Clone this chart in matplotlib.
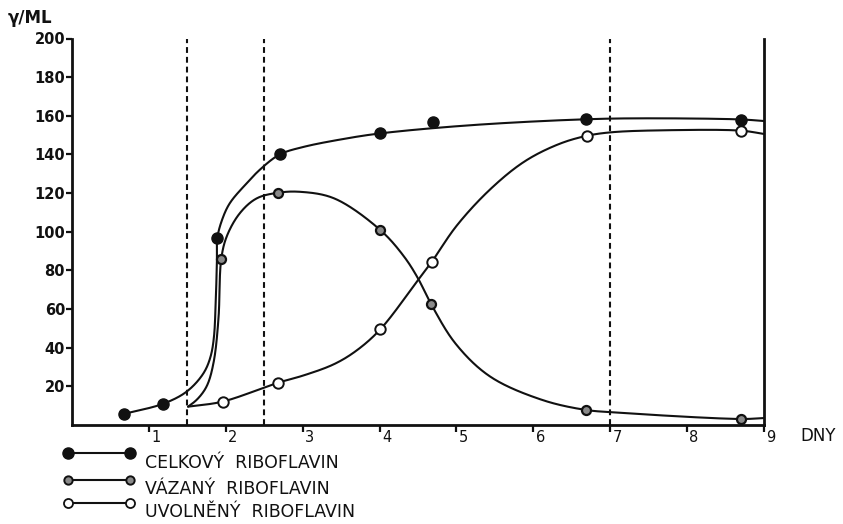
import numpy as np
import matplotlib
matplotlib.use("Agg")
import matplotlib.pyplot as plt
from matplotlib.lines import Line2D
from matplotlib.transforms import ScaledTranslation

# ---------------- data ----------------
# measured points
celk_x = [0.67, 1.18, 1.89, 2.70, 4.01, 4.69, 6.68, 8.70]
celk_y = [5.7, 10.9, 96.9, 140.0, 150.9, 157.0, 158.3, 157.8]
vaz_x = [1.94, 2.68, 4.01, 4.67, 6.68, 8.70]
vaz_y = [85.7, 120.2, 100.9, 62.6, 7.8, 3.0]
uvo_x = [1.96, 2.68, 4.01, 4.68, 6.70, 8.70]
uvo_y = [12.1, 21.9, 49.5, 84.5, 149.7, 152.2]

# hand-drawn curves
celk_curve_x = [0.67, 1.18, 1.49, 1.71, 1.80, 1.845, 1.87, 1.885, 1.89, 1.95, 2.05, 2.27, 2.44, 2.70, 3.0, 3.5, 4.01, 5.21, 6.68, 7.46, 8.71, 9.0]
celk_curve_y = [5.7, 10.9, 17.2, 26.7, 35.0, 45.0, 65.0, 85.0, 96.9, 106.0, 114.7, 125.0, 132.0, 140.0, 143.8, 147.8, 150.9, 155.2, 158.2, 158.7, 158.1, 157.3]
vaz_curve_x = [1.51, 1.62, 1.75, 1.84, 1.905, 1.94, 2.01, 2.18, 2.40, 2.68, 2.96, 3.41, 4.01, 4.32, 4.50, 4.67, 4.99, 5.44, 6.12, 6.68, 7.02, 8.71, 9.0]
vaz_curve_y = [9.5, 12.9, 19.8, 32.0, 55.0, 85.7, 97.4, 109.5, 117.3, 120.2, 120.7, 117.3, 100.9, 87.1, 75.9, 62.6, 42.0, 25.0, 12.9, 7.8, 6.6, 3.1, 3.6]
uvo_curve_x = [1.51, 1.96, 2.68, 3.0, 3.41, 3.7, 4.01, 4.50, 4.68, 5.0, 5.44, 5.89, 6.34, 6.70, 7.02, 7.69, 8.71, 9.0]
uvo_curve_y = [9.5, 12.1, 21.9, 25.5, 31.5, 38.5, 49.5, 75.0, 84.5, 103.0, 122.0, 136.5, 145.5, 149.7, 151.5, 152.5, 152.3, 150.6]

phase_x = [1.5, 2.5, 7.0]
x_ticks = [1, 2, 3, 4, 5, 6, 7, 8, 9]
y_ticks = [20, 40, 60, 80, 100, 120, 140, 160, 180, 200]
legend_labels = ["CELKOVÝ  RIBOFLAVIN", "VÁZANÝ  RIBOFLAVIN", "UVOLNĚNÝ  RIBOFLAVIN"]

SX, SY = 76.9, 1.93  # approx. pixels per data unit, used only for smooth rendering


def smooth(xs, ys, n=30, sigma=3.0):
    """Centripetal Catmull-Rom through traced points, lightly smoothed along arc length."""
    P = np.column_stack([np.asarray(xs) * SX, np.asarray(ys) * SY])
    P = np.vstack([2 * P[0] - P[1], P, 2 * P[-1] - P[-2]])
    out = []
    for i in range(1, len(P) - 2):
        p0, p1, p2, p3 = P[i - 1], P[i], P[i + 1], P[i + 2]
        t0 = 0.0
        t1 = t0 + max(np.linalg.norm(p1 - p0), 1e-6) ** 0.5
        t2 = t1 + max(np.linalg.norm(p2 - p1), 1e-6) ** 0.5
        t3 = t2 + max(np.linalg.norm(p3 - p2), 1e-6) ** 0.5
        t = np.linspace(t1, t2, n)[:, None]
        a1 = (t1 - t) / (t1 - t0) * p0 + (t - t0) / (t1 - t0) * p1
        a2 = (t2 - t) / (t2 - t1) * p1 + (t - t1) / (t2 - t1) * p2
        a3 = (t3 - t) / (t3 - t2) * p2 + (t - t2) / (t3 - t2) * p3
        b1 = (t2 - t) / (t2 - t0) * a1 + (t - t0) / (t2 - t0) * a2
        b2 = (t3 - t) / (t3 - t1) * a2 + (t - t1) / (t3 - t1) * a3
        c = (t2 - t) / (t2 - t1) * b1 + (t - t1) / (t2 - t1) * b2
        out.append(c if i == 1 else c[1:])
    C = np.vstack(out)
    # resample uniformly by arc length (0.5 px)
    d = np.r_[0, np.cumsum(np.hypot(*np.diff(C, axis=0).T))]
    s = np.arange(0, d[-1], 0.5)
    s = np.r_[s, d[-1]]
    R = np.column_stack([np.interp(s, d, C[:, 0]), np.interp(s, d, C[:, 1])])
    # gaussian smoothing with point-reflection padding (keeps end points)
    k = int(4 * sigma / 0.5)
    g = np.exp(-0.5 * (np.arange(-k, k + 1) * 0.5 / sigma) ** 2)
    g /= g.sum()
    head = 2 * R[0] - R[1:k + 1][::-1]
    tail = 2 * R[-1] - R[-k - 1:-1][::-1]
    Rp = np.vstack([head, R, tail])
    S = np.column_stack([np.convolve(Rp[:, 0], g, mode="valid"), np.convolve(Rp[:, 1], g, mode="valid")])
    return S[:, 0] / SX, S[:, 1] / SY


W, H = 843, 524
fig = plt.figure(figsize=(W / 100, H / 100), dpi=100)
fig.patch.set_facecolor("white")
ax = fig.add_axes([72 / W, 99 / H, (764 - 72) / W, (425 - 38.5) / H])
ax.set_xlim(0, 9)
ax.set_ylim(0, 200)

ink = "#111111"
lw_curve = 1.5

for x in phase_x:
    ax.plot([x, x], [0, 200], color=ink, lw=1.5, linestyle=(0, (2.8, 1.9)), zorder=1)

for cx, cy in [(celk_curve_x, celk_curve_y), (vaz_curve_x, vaz_curve_y), (uvo_curve_x, uvo_curve_y)]:
    sxp, syp = smooth(cx, cy)
    ax.plot(sxp, syp, color=ink, lw=lw_curve, zorder=2, solid_capstyle="round")

ax.plot(celk_x, celk_y, "o", ms=8, mfc=ink, mec=ink, zorder=3)
ax.plot(vaz_x, vaz_y, "o", ms=6.5, mfc="#8a8a8a", mec=ink, mew=1.6, zorder=3)
ax.plot(uvo_x, uvo_y, "o", ms=7.5, mfc="white", mec=ink, mew=1.4, zorder=3)

for s in ["left", "bottom", "right"]:
    ax.spines[s].set_linewidth(2.0)
    ax.spines[s].set_color(ink)
ax.spines["top"].set_visible(False)

ax.set_yticks(y_ticks)
ax.set_yticklabels([str(v) for v in y_ticks], fontsize=10.5, fontweight="bold", color=ink)
ax.tick_params(axis="y", direction="out", length=4, width=1.6, pad=1, colors=ink)
ax.set_xticks(x_ticks)
ax.set_xticklabels([str(v) for v in x_ticks], fontsize=10.5, color=ink)
ax.tick_params(axis="x", direction="out", length=5, width=1.6, pad=0, colors=ink)
for lab in ax.get_xticklabels():
    lab.set_transform(lab.get_transform() + ScaledTranslation(7 / 100, 2 / 100, fig.dpi_scale_trans))

fig.text(8 / W, 1 - 18 / H, "γ/ML", fontsize=12, fontweight="bold", va="center", ha="left", color=ink)
fig.text(800 / W, 1 - 436 / H, "DNY", fontsize=12, va="center", ha="left", color=ink)

# legend (drawn manually below the axes)
rows_y = [453, 480, 503]
text_y = [463, 489, 512]
styles = [
    dict(mfc=ink, mec=ink, ms=8, mew=1.0),
    dict(mfc="#8a8a8a", mec=ink, ms=6, mew=1.4),
    dict(mfc="white", mec=ink, ms=6.5, mew=1.3),
]
for ry, ty, st, lab in zip(rows_y, text_y, styles, legend_labels):
    fig.add_artist(Line2D([68 / W, 130 / W], [1 - ry / H, 1 - ry / H], color=ink, lw=1.5,
                          marker="o", transform=fig.transFigure, **st))
    fig.text(145 / W, 1 - ty / H, lab, fontsize=12.5, va="center", ha="left", color=ink)

fig.savefig("out.png", dpi=100, facecolor="white")
